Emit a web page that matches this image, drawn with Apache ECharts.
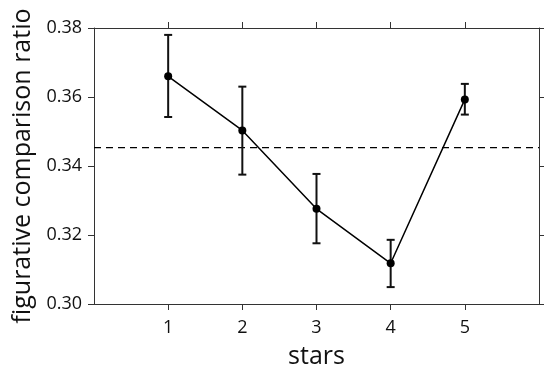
<!DOCTYPE html>
<html>
<head>
<meta charset="utf-8">
<script src="https://cdn.jsdelivr.net/npm/echarts@6/dist/echarts.min.js"></script>
<style>html,body{margin:0;padding:0;background:#fff;}#c{width:544px;height:374px;}</style>
</head>
<body>
<div id="c"></div>
<script>
const stars = [1, 2, 3, 4, 5];
const ratio = [0.3660, 0.3503, 0.3276, 0.3118, 0.3593];
const errLow = [0.3542, 0.3375, 0.3176, 0.3049, 0.3549];
const errHigh = [0.3780, 0.3630, 0.3377, 0.3186, 0.3638];
const meanRatio = 0.3453;
const xRange = [0, 6];

const font = 'Open Sans';
const axisColor = '#333';
const chart = echarts.init(document.getElementById('c'), null, {renderer: 'canvas'});

const xBase = {
  type: 'value', min: 0, max: 6, interval: 1,
  splitLine: {show: false},
  axisLine: {show: true, onZero: false, lineStyle: {color: axisColor, width: 1}},
  axisTick: {show: true, customValues: stars, length: 6, inside: false, lineStyle: {color: axisColor}},
};
const yBase = {
  type: 'value', min: 0.30, max: 0.38, interval: 0.02,
  splitLine: {show: false},
  axisLine: {show: true, onZero: false, lineStyle: {color: axisColor, width: 1}},
  axisTick: {show: true, length: 6, inside: false, lineStyle: {color: axisColor}},
};

chart.setOption({
  animation: false,
  grid: {left: 94, right: 5, top: 28, bottom: 69, containLabel: false},
  xAxis: [
    Object.assign({}, xBase, {
      position: 'bottom',
      name: 'stars', nameLocation: 'middle', nameGap: 40,
      nameTextStyle: {fontFamily: font, fontSize: 25, color: '#111'},
      axisLabel: {show: true, customValues: stars, fontFamily: font, fontSize: 18, color: '#111', margin: 15,
        formatter: v => String(v)}
    }),
    Object.assign({}, xBase, {position: 'top', axisLabel: {show: false}})
  ],
  yAxis: [
    Object.assign({}, yBase, {
      position: 'left',
      name: 'figurative comparison ratio', nameLocation: 'middle', nameGap: 57,
      nameTextStyle: {fontFamily: font, fontSize: 25, color: '#111'},
      axisLabel: {show: true, fontFamily: font, fontSize: 18, color: '#111', margin: 12,
        formatter: v => v.toFixed(2)}
    }),
    Object.assign({}, yBase, {position: 'right', axisLabel: {show: false}})
  ],
  series: [
    {
      type: 'line',
      data: xRange.map(x => [x, meanRatio]),
      symbol: 'none', silent: true,
      lineStyle: {color: '#000', type: [7, 5], width: 1.3},
      z: 1
    },
    {
      type: 'line',
      data: stars.map((s, i) => [s, ratio[i]]),
      symbol: 'circle', symbolSize: 8,
      itemStyle: {color: '#000'},
      lineStyle: {color: '#000', width: 1.5},
      z: 3
    },
    {
      type: 'custom',
      data: stars.map((s, i) => [s, errLow[i], errHigh[i]]),
      renderItem: function (params, api) {
        const x = api.value(0);
        const lo = api.coord([x, api.value(1)]);
        const hi = api.coord([x, api.value(2)]);
        const hw = 4;
        const st = {stroke: '#111', lineWidth: 2};
        return {
          type: 'group',
          children: [
            {type: 'line', shape: {x1: lo[0], y1: lo[1], x2: hi[0], y2: hi[1]}, style: st},
            {type: 'line', shape: {x1: lo[0] - hw, y1: lo[1], x2: lo[0] + hw, y2: lo[1]}, style: st},
            {type: 'line', shape: {x1: hi[0] - hw, y1: hi[1], x2: hi[0] + hw, y2: hi[1]}, style: st}
          ]
        };
      },
      z: 2
    }
  ]
});
</script>
</body>
</html>
